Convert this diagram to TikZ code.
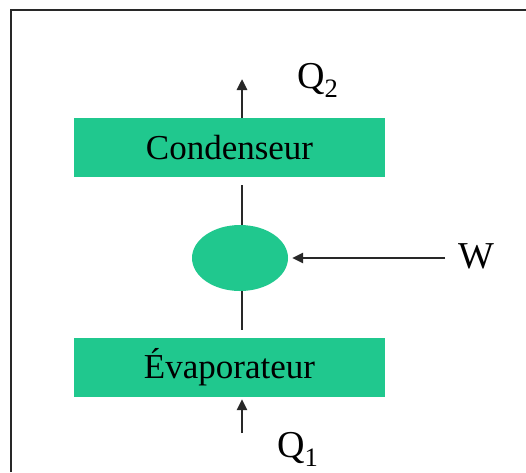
\documentclass[tikz,border=0pt]{standalone}
\usepackage{fontspec}
\setmainfont{Liberation Serif}
\usetikzlibrary{shapes.geometric,arrows.meta}
\definecolor{boxgreen}{RGB}{32,200,142}
\definecolor{linegray}{RGB}{40,40,40}
\begin{document}
\begin{tikzpicture}[x=1pt,y=-1pt,
  block/.style={draw=none,fill=boxgreen,rectangle,minimum width=311pt,minimum height=59pt,inner sep=0pt,
    font=\fontsize{35}{40}\selectfont},
  pump/.style={draw=none,fill=boxgreen,ellipse,minimum width=96pt,minimum height=66pt,inner sep=0pt},
  conn/.style={draw=linegray,line width=2.6pt},
  flow/.style={conn,-{Triangle[length=11pt,width=10pt]}},
  lbl/.style={inner sep=0pt,font=\fontsize{38}{42}\selectfont,anchor=base west}]
\useasboundingbox (0,0) rectangle (526,472);
\fill[white] (0,0) rectangle (526,472);
% frame
\draw[line width=1.3pt,linegray] (11,472) -- (11,10) -- (526,10);
% components
\node[block] (cond) at (229.5,147.5) {Condenseur};
\node[block] (evap) at (229.5,367.5) {Évaporateur};
\node[pump] (comp) at (240,258) {};
% free ends
\coordinate (q2end) at (242,79);
\coordinate (q1start) at (242,433);
\coordinate (wstart) at (445,258);
\coordinate (condlow) at (242,185);
\coordinate (evaphigh) at (242,330);
% connectors
\draw[flow] (cond.north -| q2end) -- (q2end);
\draw[conn] (condlow) -- (comp.north -| condlow);
\draw[conn] (comp.south -| evaphigh) -- (evaphigh);
\draw[flow] (wstart) -- ([xshift=4pt]comp.east);
\draw[flow,shorten >=2pt] (q1start) -- (evap.south -| q1start);
% labels
\node[lbl] (q2) at (297,88) {Q\textsubscript{2}};
\node[lbl] (w) at (458,268) {W};
\node[lbl] (q1) at (277,457) {Q\textsubscript{1}};
\end{tikzpicture}
\end{document}
